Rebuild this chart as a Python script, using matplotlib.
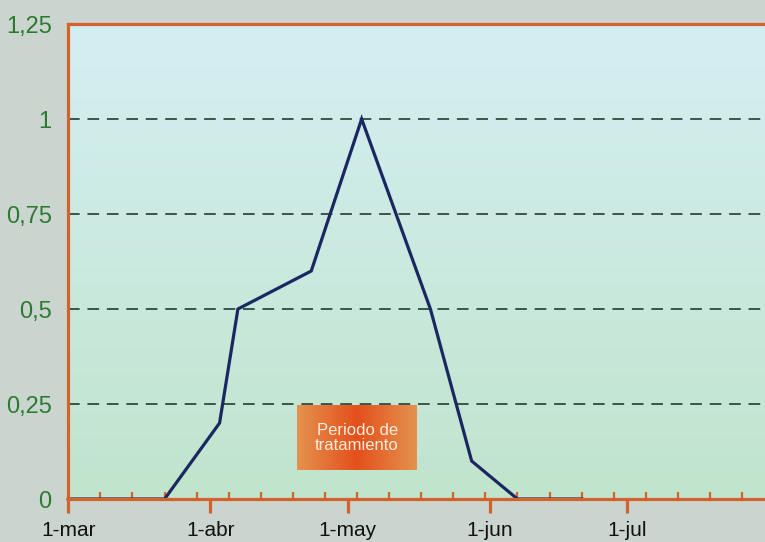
import datetime as dt
import numpy as np
import matplotlib
matplotlib.use('Agg')
import matplotlib.pyplot as plt
import matplotlib.dates as mdates
from matplotlib.ticker import FixedLocator, FixedFormatter

# ---------------- datos ----------------
anio = 2001
fechas = ['03-01', '03-22', '04-03', '04-07', '04-23', '05-04',
          '05-19', '05-28', '06-07', '06-21']
valores = [0, 0, 0.2, 0.5, 0.6, 1.0, 0.5, 0.1, 0, 0]

meses = ['03-01', '04-01', '05-01', '06-01', '07-01']
meses_txt = ['1-mar', '1-abr', '1-may', '1-jun', '1-jul']

y_ticks = [0, 0.25, 0.5, 0.75, 1, 1.25]
y_txt = ['0', '0,25', '0,5', '0,75', '1', '1,25']

periodo = ('04-20', '05-16')     # caja "Periodo de tratamiento"
periodo_y = (0.076, 0.247)
periodo_txt = 'Periodo de\ntratamiento'


def fecha(s):
    m, d = s.split('-')
    return dt.date(anio, int(m), int(d))


x = [fecha(f) for f in fechas]

naranja = '#d5622b'
azul = '#1b2760'
verde = '#2b7a2e'

fig = plt.figure(figsize=(7.65, 5.42), dpi=100, facecolor='#cbd5d0')
ax = fig.add_axes([0.0893, 0.0793, 0.9107, 0.8764])

# fondo degradado del area del grafico (celeste arriba, verde abajo)
top = np.array([212, 239, 243]) / 255.
bot = np.array([193, 228, 204]) / 255.
t = np.linspace(0, 1, 256)[:, None]
grad = (top * (1 - t) + bot * t)[:, None, :]
ax.imshow(grad, extent=[0, 1, 0, 1], transform=ax.transAxes,
          aspect='auto', zorder=0, interpolation='bicubic')

# lineas de referencia
for yv in y_ticks[1:-1]:
    ax.axhline(yv, color='#3b5548', lw=1.4, ls=(0, (6, 4)), zorder=1)

# caja del periodo de tratamiento
x0 = mdates.date2num(fecha(periodo[0]))
x1 = mdates.date2num(fecha(periodo[1]))
h = np.linspace(0, 1, 200)
prof = 1 - np.abs(h - 0.5) * 2
c_borde = np.array([228, 146, 78]) / 255.
c_centro = np.array([228, 80, 28]) / 255.
caja = (c_borde * (1 - prof[:, None]) + c_centro * prof[:, None])[None, :, :]
ax.imshow(caja, extent=[x0, x1, periodo_y[0], periodo_y[1]],
          aspect='auto', zorder=2, interpolation='bicubic')
ax.text((x0 + x1) / 2, sum(periodo_y) / 2, periodo_txt, color='#fbeede',
        ha='center', va='center', fontsize=12, linespacing=1.0, zorder=3,
        family=['Liberation Sans', 'DejaVu Sans'])

# serie
ax.plot(x, valores, color=azul, lw=2.3, solid_joinstyle='miter', zorder=4,
        clip_on=False)

ax.set_xlim(fecha('03-01'), fecha('07-31'))
ax.set_ylim(0, 1.25)

# ejes
for s in ['left', 'bottom', 'top']:
    ax.spines[s].set_color(naranja)
    ax.spines[s].set_linewidth(2.3)
    ax.spines[s].set_zorder(5)
ax.spines['right'].set_visible(False)

ax.set_yticks(y_ticks)
ax.set_yticklabels(y_txt)
ax.tick_params(axis='y', length=0, pad=12, labelsize=17, labelcolor=verde)
for lb in ax.get_yticklabels():
    lb.set_family(['Liberation Sans', 'DejaVu Sans'])

ax.xaxis.set_major_locator(FixedLocator([mdates.date2num(fecha(m)) for m in meses]))
ax.xaxis.set_major_formatter(FixedFormatter(meses_txt))
semanas = [mdates.date2num(fecha('03-01')) + 7 * k for k in range(1, 22)]
ax.xaxis.set_minor_locator(FixedLocator(semanas))
ax.tick_params(axis='x', which='major', direction='out', length=10, width=2.3,
               color=naranja, pad=6, labelsize=15, labelcolor='#111111')
ax.tick_params(axis='x', which='minor', direction='in', length=5, width=1.6,
               color=naranja)
for lb in ax.get_xticklabels():
    lb.set_family(['Liberation Sans', 'DejaVu Sans'])

fig.savefig('out.png', dpi=100, facecolor=fig.get_facecolor())
